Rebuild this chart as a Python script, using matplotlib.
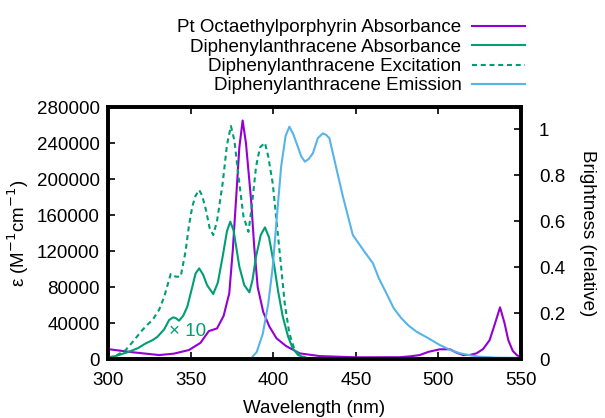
import numpy as np
import matplotlib
matplotlib.use('Agg')
import matplotlib.pyplot as plt
from matplotlib.lines import Line2D

plt.rcParams['font.family'] = ['Liberation Sans', 'DejaVu Sans']
plt.rcParams['font.size'] = 13.5

purple = '#9400d3'
green = '#009e73'
blue = '#56b4e9'

# Pt octaethylporphyrin absorbance (M^-1 cm^-1)
ptoep_nm = [300, 315, 331, 340, 349, 356, 361, 366, 370, 373.4, 375.5, 377.5, 379.5, 381.5,
            383.5, 386.6, 388.5, 390.6, 394, 397.7, 402, 407.8, 416, 428, 450, 476.6, 483,
            488.7, 494, 500.8, 507, 511, 515, 519, 523, 527, 531, 534, 537.3, 540, 542.3,
            545, 547.4, 550]
ptoep_eps = [11000, 7500, 4400, 6000, 10000, 18000, 31000, 34000, 48000, 73000, 120000,
             177000, 235000, 265000, 240000, 177000, 125000, 80000, 52000, 36000, 23000,
             14400, 6300, 3300, 1900, 2000, 3000, 4400, 8000, 10800, 10800, 7000, 4400,
             4500, 6300, 11000, 21000, 38000, 57400, 40000, 21000, 9000, 4400, 1500]

# Diphenylanthracene absorbance, x10
dpa_nm = [300, 305, 312.7, 318, 322.9, 327, 330, 334, 337, 339.4, 341, 343, 345.5, 348, 351,
          353, 355.2, 357.5, 360, 363.7, 366.5, 369.4, 372, 374, 376, 379.5, 382.5, 385.6,
          387.5, 389.6, 392.5, 395, 397.5, 400.7, 403, 405.8, 409, 411.8, 415, 420, 425]
dpa_eps10 = [1500, 3500, 8100, 12000, 17400, 21000, 24800, 33000, 43300, 46300, 45500, 42600,
             48000, 58100, 80000, 95000, 100700, 94000, 82000, 72200, 85000, 113700, 142000,
             152600, 143000, 102600, 82000, 74100, 88000, 113700, 138000, 146300, 135000,
             102600, 75000, 47000, 25000, 11900, 4500, 800, 0]

# Diphenylanthracene excitation (relative)
exc_nm = [300, 305, 310.7, 315, 320.8, 324, 327, 331, 334, 336, 338, 341, 344, 347, 349, 351,
          353, 355.2, 357, 359.3, 361.5, 363.7, 366, 369.4, 372, 374.4, 376.5, 379.5, 382,
          385, 387, 389.6, 392, 395, 397, 399.7, 402, 404.8, 407, 409.8, 412.5, 415.9, 422]
exc_rel = [0.006, 0.015, 0.039, 0.075, 0.126, 0.15, 0.17, 0.215, 0.27, 0.32, 0.37, 0.358,
           0.358, 0.47, 0.58, 0.662, 0.71, 0.735, 0.71, 0.648, 0.57, 0.539, 0.60, 0.764,
           0.93, 1.013, 0.95, 0.764, 0.62, 0.553, 0.66, 0.836, 0.92, 0.94, 0.88, 0.764,
           0.60, 0.40, 0.24, 0.11, 0.05, 0.017, 0.0]

# Diphenylanthracene emission (relative)
em_nm = [386.6, 390, 393.7, 397, 399.7, 402, 404.8, 407.5, 409.8, 412, 414.9, 417, 419.2,
         421.5, 424, 427, 430, 432, 434, 438, 442.2, 448.2, 452, 455.3, 460.4, 464, 468.5,
         473, 477.6, 482, 486.7, 494, 500.8, 507, 513, 520, 525, 535, 550]
em_rel = [0.003, 0.03, 0.11, 0.24, 0.40, 0.60, 0.836, 0.97, 1.01, 0.98, 0.923, 0.88, 0.858,
          0.87, 0.894, 0.96, 0.981, 0.975, 0.96, 0.836, 0.706, 0.539, 0.50, 0.466, 0.416,
          0.35, 0.286, 0.22, 0.177, 0.145, 0.119, 0.09, 0.061, 0.04, 0.025, 0.015, 0.01,
          0.006, 0.005]

fig = plt.figure(figsize=(6.05, 4.18), dpi=100)
ax = fig.add_axes([0.1785, 0.1411, 0.6827, 0.6029])
ax2 = ax.twinx()

lw = 1.5
dash = (0, (2.4, 1.8))
ax.plot(ptoep_nm, ptoep_eps, color=purple, lw=lw)
ax.plot(dpa_nm, dpa_eps10, color=green, lw=lw)
ax2.plot(exc_nm, exc_rel, color=green, lw=lw, ls=dash)
ax2.plot(em_nm, em_rel, color=blue, lw=lw)

ax.text(337, 31000, '× 10', color=green, fontsize=13.5, va='center')

ax.set_xlim(300, 550)
ax.set_ylim(0, 280000)
ax2.set_ylim(0, 280000 / 255556)
ax.set_xticks(np.arange(300, 551, 50))
ax.set_yticks(np.arange(0, 280001, 40000))
ax2.set_yticks([0, 0.2, 0.4, 0.6, 0.8, 1])
ax2.set_yticklabels(['0', '0.2', '0.4', '0.6', '0.8', '1'])

ax.tick_params(axis='x', direction='in', top=True, length=5, width=1.2, pad=9)
ax.tick_params(axis='y', direction='in', length=5, width=1.2, pad=6)
ax2.tick_params(axis='y', direction='in', length=5, width=1.2, pad=13)
for a in (ax, ax2):
    for s in a.spines.values():
        s.set_linewidth(2.6)

ax.set_xlabel('Wavelength (nm)', labelpad=8)
ax.set_ylabel('ε (M$^{-1}$cm$^{-1}$)', labelpad=4)
ax2.set_ylabel('Brightness (relative)', rotation=-90, labelpad=22)

handles = [Line2D([], [], color=purple, lw=lw),
           Line2D([], [], color=green, lw=lw),
           Line2D([], [], color=green, lw=lw, ls=dash),
           Line2D([], [], color=blue, lw=lw)]
labels = ['Pt Octaethylporphyrin Absorbance', 'Diphenylanthracene Absorbance',
          'Diphenylanthracene Excitation', 'Diphenylanthracene Emission']
fig.legend(handles, labels, loc='upper right', bbox_to_anchor=(0.868, 0.954),
           markerfirst=False, frameon=False, handlelength=2.85, handletextpad=0.55,
           labelspacing=0.12, borderaxespad=0, borderpad=0)

fig.savefig('out.png', dpi=100)
